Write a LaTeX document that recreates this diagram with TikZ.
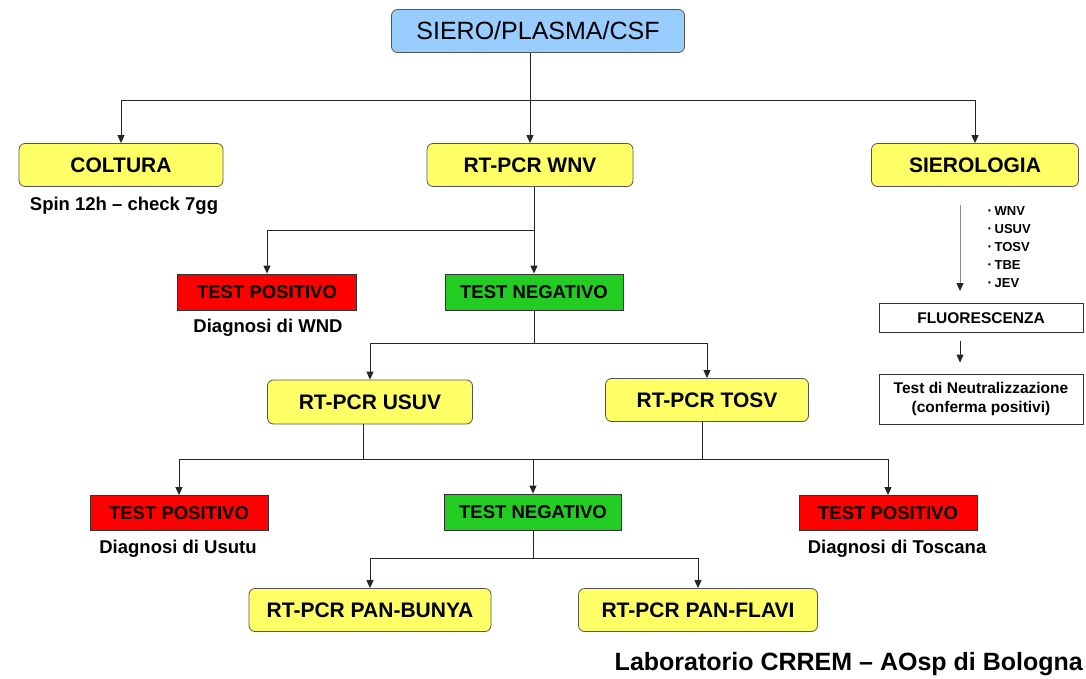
\documentclass[tikz,border=0pt]{standalone}
\usepackage{fontspec}
\setmainfont{Liberation Sans}
\usetikzlibrary{arrows.meta,positioning,calc}
\definecolor{Sky}{HTML}{99CCFF}
\definecolor{Lemon}{HTML}{FFFF66}
\definecolor{Alarm}{HTML}{FF0000}
\definecolor{Leaf}{HTML}{22CC22}
\definecolor{Rim}{HTML}{555555}

\begin{document}
\begin{tikzpicture}[x=1pt,y=-1pt,
  arr/.style={black!85,line width=0.9pt,-{Triangle[length=8pt,width=7pt]}},
  wire/.style={black!85,line width=0.9pt},
  rbox/.style={draw=Rim,line width=0.8pt,rounded corners=6pt,fill=Lemon,inner sep=0pt,font=\fontsize{21}{24}\selectfont\bfseries},
  sbox/.style={draw=black!80,line width=0.8pt,inner sep=0pt,font=\fontsize{18.5}{22}\selectfont\bfseries},
  note/.style={font=\fontsize{18.5}{22}\selectfont\bfseries},
  small/.style={font=\fontsize{13}{15}\selectfont\bfseries,anchor=west,inner sep=0pt}]
\useasboundingbox (0,0) rectangle (1086,679);
% top level
\node[rbox,fill=Sky,font=\fontsize{25}{28}\selectfont,minimum width=293,minimum height=43] (siero) at (538,31) {SIERO/PLASMA/CSF};
\node[rbox,minimum width=204,minimum height=43] (coltura) at (121,165) {COLTURA};
\node[rbox,minimum width=206,minimum height=43] (pcrwnv) at (530,165) {RT-PCR WNV};
\node[rbox,minimum width=207,minimum height=43] (sierologia) at (975,165) {SIEROLOGIA};
\node[note] (spin) at (124,206) {Spin 12h – check 7gg};
% WNV branch
\node[sbox,fill=Alarm,minimum width=179,minimum height=36] (pos1) at (267,292) {TEST POSITIVO};
\node[sbox,fill=Leaf,minimum width=178,minimum height=36] (neg1) at (534,292) {TEST NEGATIVO};
\node[note] (dgwnd) at (268,328) {Diagnosi di WND};
\node[rbox,minimum width=205,minimum height=44] (usuv) at (370,402) {RT-PCR USUV};
\node[rbox,minimum width=203,minimum height=43] (tosv) at (707,400) {RT-PCR TOSV};
% USUV / TOSV branch
\node[sbox,fill=Alarm,minimum width=178,minimum height=35] (pos2) at (179,513) {TEST POSITIVO};
\node[sbox,fill=Leaf,minimum width=177,minimum height=36] (neg2) at (533,512) {TEST NEGATIVO};
\node[sbox,fill=Alarm,minimum width=178,minimum height=35] (pos3) at (888,513) {TEST POSITIVO};
\node[note] (dgusutu) at (178,549) {Diagnosi di Usutu};
\node[note] (dgtosc) at (897,549) {Diagnosi di Toscana};
\node[rbox,minimum width=242,minimum height=43] (bunya) at (370,610) {RT-PCR PAN-BUNYA};
\node[rbox,minimum width=239,minimum height=43] (flavi) at (698,610) {RT-PCR PAN-FLAVI};
% serology column
\foreach \v [count=\i] in {WNV,USUV,TOSV,TBE,JEV} {\node[small] (ab\i) at (988,193+18*\i) {\raisebox{1.8pt}{\fontsize{8}{8}\selectfont•}\ \v};}
\node[sbox,fill=white,font=\fontsize{15.5}{18}\selectfont\bfseries,minimum width=204,minimum height=29] (fluo) at (981,318) {FLUORESCENZA};
\node[sbox,fill=white,font=\fontsize{15.5}{19}\selectfont\bfseries,align=center,minimum width=204,minimum height=50] (neutr) at (981,399) {Test di Neutralizzazione\\(conferma positivi)};
\node[font=\fontsize{25}{28}\selectfont\bfseries,anchor=east,inner sep=0pt] (lab) at (1083,664) {Laboratorio CRREM – AOsp di Bologna};
% connectors
\coordinate (bus1) at (530,100);
\draw[arr] (siero.south -| pcrwnv.north) -- (pcrwnv.north);
\draw[arr] (bus1) -| (coltura.north);
\draw[arr] (bus1) -| (sierologia.north);
\coordinate (bus2) at (534,230);
\draw[arr] (bus2 |- pcrwnv.south) -- (neg1.north);
\draw[arr] (bus2) -| (pos1.north);
\coordinate (bus3) at (534,343);
\draw[wire] (neg1.south) -- (bus3);
\draw[arr] (bus3) -| (usuv.north);
\draw[arr] (bus3) -| (tosv.north);
\coordinate (bus4) at (533,459);
\draw[wire] ($(usuv.south)+(-7,0)$) |- (bus4);
\draw[wire] ($(tosv.south)+(-5,0)$) |- (bus4);
\draw[arr] (bus4) -| (pos2.north);
\draw[arr] (bus4) -| (pos3.north);
\draw[arr] (bus4) -- (neg2.north);
\coordinate (bus5) at (533,558);
\draw[wire] (neg2.south) -- (bus5);
\draw[arr] (bus5) -| (bunya.north);
\draw[arr] (bus5) -| (flavi.north);
\coordinate (s1) at (960,205);
\coordinate (s2) at (960,291);
\draw[black!45,line width=0.9pt,-{Triangle[length=8pt,width=7pt,black!85]}] (s1) -- (s2);
\draw[arr,shorten <=8pt,shorten >=11pt] (fluo.south -| s1) -- (neutr.north -| s1);
\end{tikzpicture}
\end{document}
